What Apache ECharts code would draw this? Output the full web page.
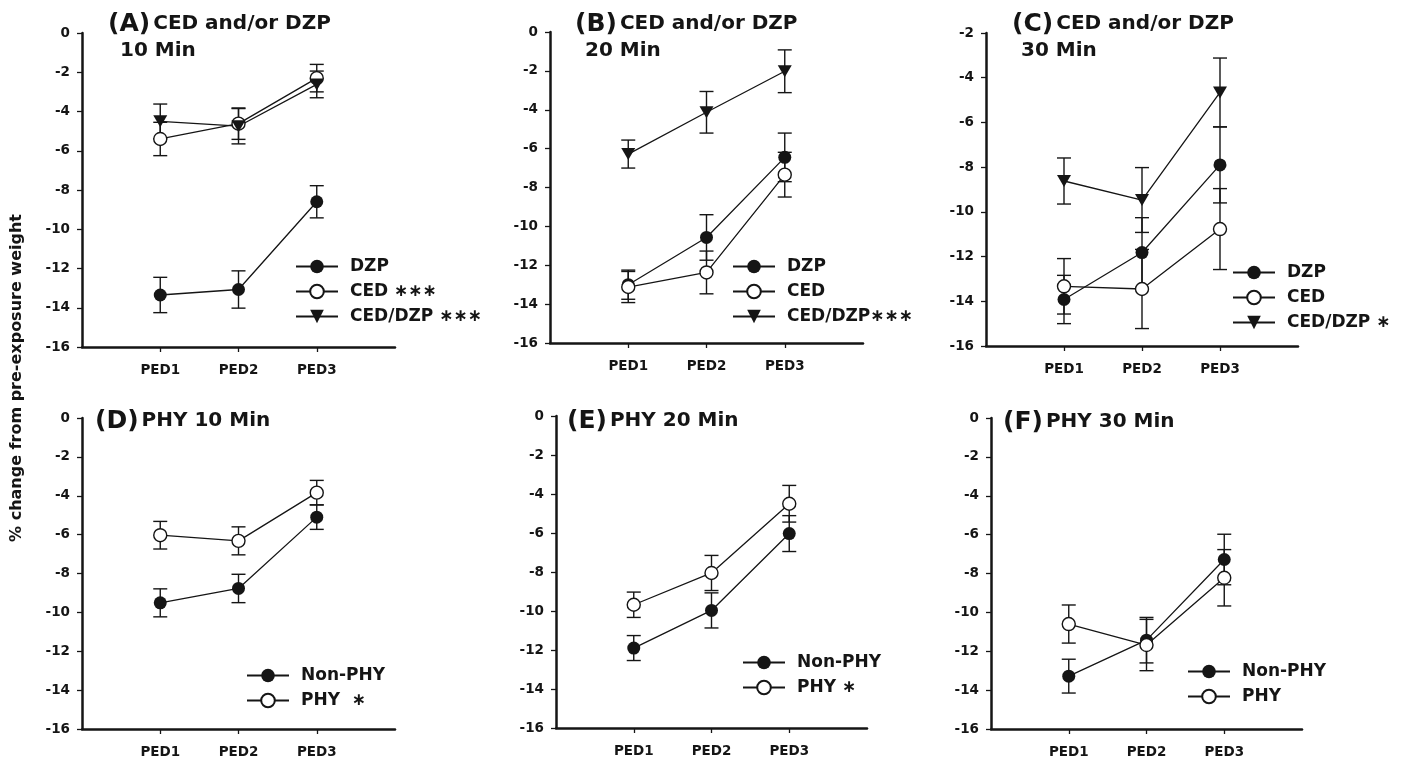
<!DOCTYPE html>
<html>
<head>
<meta charset="utf-8">
<title>% change from pre-exposure weight</title>
<script src="https://cdn.jsdelivr.net/npm/echarts@6/dist/echarts.min.js"></script>
<style>
  html, body { margin: 0; padding: 0; background: #fff; }
  #chart { width: 1403px; height: 761px; }
</style>
</head>
<body>
<div id="chart"></div>
<script>
// categories on the x axis
const categories = ['PED1', 'PED2', 'PED3'];

// (A) CED and/or DZP, 10 min  — mean and SE
const aDzp = [-13.35, -13.07, -8.6];
const aDzpErr = [0.9, 0.95, 0.82];
const aCed = [-5.4, -4.62, -2.3];
const aCedErr = [0.85, 0.8, 0.7];
const aMix = [-4.5, -4.75, -2.62];
const aMixErr = [0.88, 0.9, 0.68];

// (B) 20 min
const bDzp = [-13.0, -10.57, -6.45];
const bDzpErr = [0.75, 1.17, 1.25];
const bCed = [-13.12, -12.37, -7.34];
const bCedErr = [0.8, 1.1, 1.15];
const bMix = [-6.28, -4.13, -2.02];
const bMixErr = [0.72, 1.07, 1.1];

// (C) 30 min
const cDzp = [-13.92, -11.82, -7.9];
const cDzpErr = [1.08, 1.56, 1.7];
const cCed = [-13.33, -13.45, -10.77];
const cCedErr = [1.24, 1.77, 1.81];
const cMix = [-8.62, -9.47, -4.66];
const cMixErr = [1.03, 1.45, 1.54];

// (D) PHY 10 min
const dNon = [-9.51, -8.77, -5.1];
const dNonErr = [0.72, 0.73, 0.63];
const dPhy = [-6.03, -6.32, -3.84];
const dPhyErr = [0.71, 0.72, 0.63];

// (E) PHY 20 min
const eNon = [-11.9, -9.97, -6.03];
const eNonErr = [0.64, 0.9, 0.92];
const ePhy = [-9.68, -8.05, -4.5];
const ePhyErr = [0.65, 0.9, 0.94];

// (F) PHY 30 min
const fNon = [-13.28, -11.43, -7.28];
const fNonErr = [0.87, 1.17, 1.3];
const fPhy = [-10.6, -11.68, -8.22];
const fPhyErr = [0.98, 1.32, 1.45];

const yTitle = '% change from pre-exposure weight';
const STAR = '\u2217';

const FONT = '"DejaVu Sans", "Liberation Sans", sans-serif';
const INK = '#151515';

const panels = [
    {
        grid: { left: 82, top: 33, width: 313, height: 314 }, yMin: -16,
        title: { left: 108, top: 10, letter: '(A)', text: 'CED and/or DZP', sub: '10 Min', subPad: 12 },
        legend: { left: 295, top: 258 },
        groups: [
            { name: 'DZP', kind: 'filled', values: aDzp, err: aDzpErr },
            { name: 'CED ' + STAR + STAR + STAR, kind: 'open', values: aCed, err: aCedErr },
            { name: 'CED/DZP ' + STAR + STAR + STAR, kind: 'tri', values: aMix, err: aMixErr }
        ]
    },
    {
        grid: { left: 550, top: 32, width: 313, height: 311 }, yMin: -16,
        title: { left: 575, top: 10, letter: '(B)', text: 'CED and/or DZP', sub: '20 Min', subPad: 10 },
        legend: { left: 732, top: 258 },
        groups: [
            { name: 'DZP', kind: 'filled', values: bDzp, err: bDzpErr },
            { name: 'CED', kind: 'open', values: bCed, err: bCedErr },
            { name: 'CED/DZP' + STAR + STAR + STAR, kind: 'tri', values: bMix, err: bMixErr }
        ]
    },
    {
        grid: { left: 986, top: 33, width: 312, height: 313 }, yMin: -16, yMax: -2,
        title: { left: 1012, top: 10, letter: '(C)', text: 'CED and/or DZP', sub: '30 Min', subPad: 9 },
        legend: { left: 1232, top: 264 },
        groups: [
            { name: 'DZP', kind: 'filled', values: cDzp, err: cDzpErr },
            { name: 'CED', kind: 'open', values: cCed, err: cCedErr },
            { name: 'CED/DZP ' + STAR, kind: 'tri', values: cMix, err: cMixErr }
        ]
    },
    {
        grid: { left: 82, top: 418, width: 313, height: 311 }, yMin: -16,
        title: { left: 95, top: 407, letter: '(D)', text: 'PHY 10 Min' },
        legend: { left: 246, top: 667 },
        groups: [
            { name: 'Non-PHY', kind: 'filled', values: dNon, err: dNonErr },
            { name: 'PHY  ' + STAR, kind: 'open', values: dPhy, err: dPhyErr }
        ]
    },
    {
        grid: { left: 556, top: 416, width: 311, height: 312 }, yMin: -16,
        title: { left: 567, top: 407, letter: '(E)', text: 'PHY 20 Min' },
        legend: { left: 742, top: 654 },
        groups: [
            { name: 'Non-PHY', kind: 'filled', values: eNon, err: eNonErr },
            { name: 'PHY ' + STAR, kind: 'open', values: ePhy, err: ePhyErr }
        ]
    },
    {
        grid: { left: 991, top: 418, width: 311, height: 311 }, yMin: -16,
        title: { left: 1003, top: 408, letter: '(F)', text: 'PHY 30 Min' },
        legend: { left: 1187, top: 663 },
        groups: [
            { name: 'Non-PHY', kind: 'filled', values: fNon, err: fNonErr },
            { name: 'PHY', kind: 'open', values: fPhy, err: fPhyErr }
        ]
    }
];

// x axis: one empty slot on each side so the points sit a full step in from the ends
const xSlots = [''].concat(categories, ['']);

function markerStyle(kind) {
    if (kind === 'open') {
        return { symbol: 'circle', symbolSize: 13, symbolRotate: 0,
            itemStyle: { color: '#fff', borderColor: INK, borderWidth: 1.4 } };
    }
    if (kind === 'tri') {
        return { symbol: 'triangle', symbolSize: [14, 12], symbolRotate: 180,
            itemStyle: { color: INK, borderWidth: 0 } };
    }
    return { symbol: 'circle', symbolSize: 13, symbolRotate: 0,
        itemStyle: { color: INK, borderWidth: 0 } };
}

function renderErrorBar(params, api) {
    const x = api.value(0);
    const top = api.coord([x, api.value(2)]);
    const bottom = api.coord([x, api.value(1)]);
    const half = 7;
    const style = { stroke: INK, lineWidth: 1.4 };
    return {
        type: 'group',
        children: [
            { type: 'line', shape: { x1: top[0], y1: top[1], x2: bottom[0], y2: bottom[1] }, style: style },
            { type: 'line', shape: { x1: top[0] - half, y1: top[1], x2: top[0] + half, y2: top[1] }, style: style },
            { type: 'line', shape: { x1: bottom[0] - half, y1: bottom[1], x2: bottom[0] + half, y2: bottom[1] }, style: style }
        ]
    };
}

const grids = [], xAxes = [], yAxes = [], series = [], titles = [], legends = [];

panels.forEach((p, i) => {
    grids.push(Object.assign({ containLabel: false }, p.grid));

    xAxes.push({
        type: 'category',
        gridIndex: i,
        data: xSlots,
        boundaryGap: false,
        axisLine: { onZero: false, lineStyle: { color: INK, width: 2.5 } },
        axisTick: { length: 5, lineStyle: { color: INK, width: 1.3 },
            interval: idx => idx >= 1 && idx <= categories.length },
        axisLabel: { interval: 0, margin: 16, color: INK, fontFamily: FONT, fontWeight: 'bold', fontSize: 13.5 },
        splitLine: { show: false }
    });

    yAxes.push({
        type: 'value',
        gridIndex: i,
        min: p.yMin,
        max: p.yMax !== undefined ? p.yMax : 0,
        interval: 2,
        axisLine: { show: true, onZero: false, lineStyle: { color: INK, width: 2.5 } },
        axisTick: { show: true, length: 5, lineStyle: { color: INK, width: 1.3 } },
        axisLabel: { margin: 12, color: INK, fontFamily: FONT, fontWeight: 'bold', fontSize: 13.5 },
        splitLine: { show: false }
    });

    const t = p.title;
    const text = t.sub
        ? '{p|' + t.letter + '}{t|' + t.text + '}\n{s|' + t.sub + '}'
        : '{p|' + t.letter + '}{t|' + t.text + '}';
    titles.push({
        left: t.left, top: t.top, padding: 0,
        text: text,
        textStyle: {
            rich: {
                p: { fontFamily: FONT, fontWeight: 'bold', fontSize: 25, color: INK, lineHeight: 28 },
                t: { fontFamily: FONT, fontWeight: 'bold', fontSize: 20, color: INK, lineHeight: 28, padding: [0, 0, 0, 3] },
                s: { fontFamily: FONT, fontWeight: 'bold', fontSize: 20, color: INK, lineHeight: 26, padding: [0, 0, 0, t.subPad || 0] }
            }
        }
    });

    legends.push({
        left: p.legend.left, top: p.legend.top, padding: 0,
        orient: 'vertical',
        itemWidth: 42, itemHeight: 17, itemGap: 8,
        selectedMode: false,
        data: p.groups.map(g => g.name),
        textStyle: { fontFamily: FONT, fontWeight: 'bold', fontSize: 17, color: INK, padding: [0, 0, 0, 7] }
    });

    p.groups.forEach(g => {
        series.push(Object.assign({
            type: 'line',
            name: g.name,
            xAxisIndex: i, yAxisIndex: i,
            data: g.values.map((v, k) => [k + 1, v]),
            lineStyle: { color: INK, width: 1.3 },
            z: 3
        }, markerStyle(g.kind)));

        series.push({
            type: 'custom',
            name: g.name + ' SE',
            xAxisIndex: i, yAxisIndex: i,
            renderItem: renderErrorBar,
            encode: { x: 0, y: [1, 2] },
            data: g.values.map((v, k) => [k + 1, v - g.err[k], v + g.err[k]]),
            z: 2
        });
    });
});

const chart = echarts.init(document.getElementById('chart'));
chart.setOption({
    animation: false,
    backgroundColor: '#fff',
    title: titles,
    legend: legends,
    grid: grids,
    xAxis: xAxes,
    yAxis: yAxes,
    series: series,
    graphic: [{
        type: 'text',
        x: 17, y: 378,
        rotation: Math.PI / 2,
        style: {
            text: yTitle,
            fill: INK,
            font: 'bold 16px ' + FONT,
            textAlign: 'center',
            textVerticalAlign: 'middle'
        }
    }]
});

window.addEventListener('resize', () => {
    chart.resize();
});
</script>
</body>
</html>
